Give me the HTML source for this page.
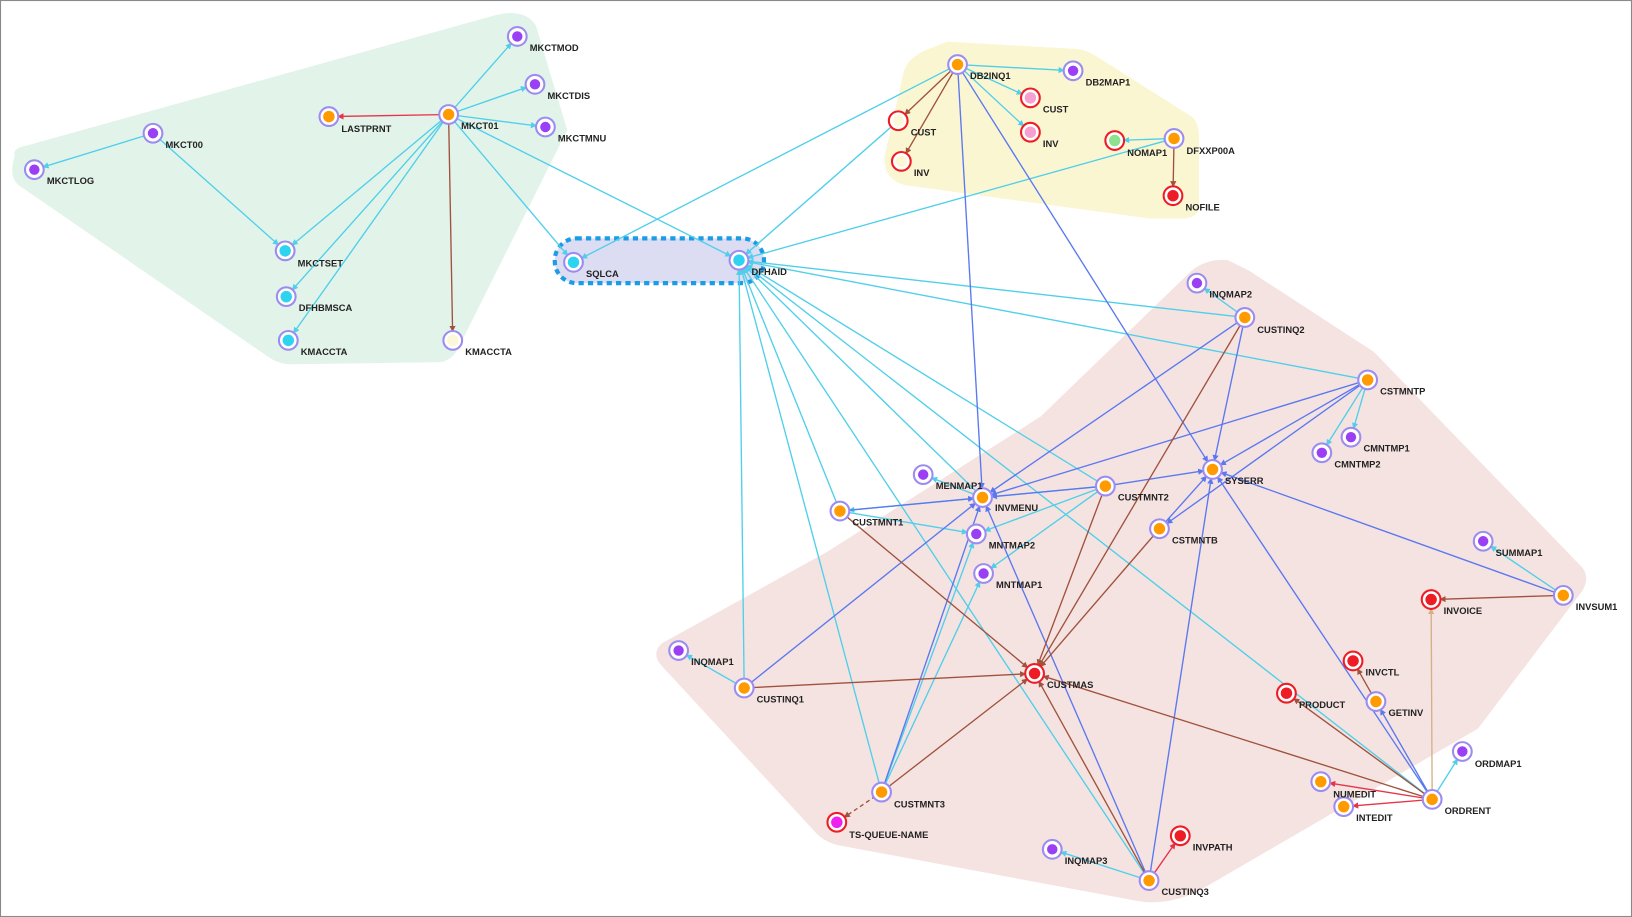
<!DOCTYPE html>
<html><head><meta charset="utf-8"><style>
html,body{margin:0;padding:0;background:#fff;}
svg{display:block;}
text{font-family:"Liberation Sans",Arial,sans-serif;font-weight:bold;font-size:9px;fill:#222;}
</style></head><body>
<svg width="1632" height="917" viewBox="0 0 1568 881" xmlns="http://www.w3.org/2000/svg">
<defs>
<marker id="ac" markerUnits="userSpaceOnUse" markerWidth="8" markerHeight="8" refX="14" refY="3" orient="auto"><path d="M0,0L6,3L0,6z" fill="#4fcfea"/></marker>
<marker id="ab" markerUnits="userSpaceOnUse" markerWidth="8" markerHeight="8" refX="14" refY="3" orient="auto"><path d="M0,0L6,3L0,6z" fill="#5a78f0"/></marker>
<marker id="ar" markerUnits="userSpaceOnUse" markerWidth="8" markerHeight="8" refX="14" refY="3" orient="auto"><path d="M0,0L6,3L0,6z" fill="#e8334a"/></marker>
<marker id="aw" markerUnits="userSpaceOnUse" markerWidth="8" markerHeight="8" refX="14" refY="3" orient="auto"><path d="M0,0L6,3L0,6z" fill="#a0523d"/></marker>
<marker id="at" markerUnits="userSpaceOnUse" markerWidth="8" markerHeight="8" refX="14" refY="3" orient="auto"><path d="M0,0L6,3L0,6z" fill="#d4b088"/></marker>
</defs>
<rect x="0.5" y="0.5" width="1567" height="880" fill="#fff" stroke="#888" stroke-width="1"/>
<!-- groups -->
<path d="M14,150 Q12,142 25,140 L478,14 Q505,8 515,25 L545,125 L440,335 Q433,348 420,348 L280,350 Q268,350 258,343 L18,178 Q8,170 14,150z" fill="#e2f3ea"/>
<path d="M850,150 L868,70 Q872,55 890,48 L910,40 L1035,47 Q1045,48 1055,55 L1145,112 Q1152,118 1152,130 L1152,200 Q1150,210 1135,210 L1105,210 L870,178 Q848,172 850,150z" fill="#fbf6d2"/>
<path d="M636,618 L795,530 L1000,400 L1145,260 Q1160,248 1180,250 L1200,260 L1320,338 L1520,545 Q1528,555 1520,568 L1420,700 L1150,857 Q1120,870 1095,866 L805,812 Q790,808 782,798 L636,640 Q625,628 636,618z" fill="#f5e3e1"/>
<rect x="533" y="229" width="201" height="43" rx="21" fill="#dcdcf3" stroke="#1a9de6" stroke-width="4" stroke-dasharray="5,4"/>
<g fill="none" stroke-width="1.3">
<!-- green group -->
<g stroke="#4fcfea" marker-end="url(#ac)">
<line x1="147" y1="128" x2="33" y2="163"/>
<line x1="147" y1="128" x2="274" y2="241"/>
<line x1="431" y1="110" x2="497" y2="35"/>
<line x1="431" y1="110" x2="514" y2="81"/>
<line x1="431" y1="110" x2="524" y2="122"/>
<line x1="431" y1="110" x2="274" y2="241"/>
<line x1="431" y1="110" x2="275" y2="285"/>
<line x1="431" y1="110" x2="277" y2="327"/>
<line x1="431" y1="110" x2="551" y2="252"/>
<line x1="431" y1="110" x2="710" y2="250"/>
<line x1="920" y1="62" x2="551" y2="252"/>
<line x1="920" y1="62" x2="1031" y2="68"/>
<line x1="920" y1="62" x2="990" y2="94"/>
<line x1="920" y1="62" x2="990" y2="127"/>
<line x1="1128" y1="133" x2="1071" y2="135"/>
<line x1="1128" y1="133" x2="710" y2="250"/>
<line x1="863" y1="116" x2="710" y2="250"/>
<line x1="1196" y1="305" x2="1150" y2="272"/>
<line x1="1196" y1="305" x2="710" y2="250"/>
<line x1="1314" y1="365" x2="710" y2="250"/>
<line x1="1314" y1="365" x2="1298" y2="420"/>
<line x1="1314" y1="365" x2="1270" y2="435"/>
<line x1="1062" y1="467" x2="710" y2="250"/>
<line x1="1062" y1="467" x2="938" y2="513"/>
<line x1="1062" y1="467" x2="945" y2="551"/>
<line x1="1062" y1="467" x2="807" y2="491"/>
<line x1="807" y1="491" x2="710" y2="250"/>
<line x1="807" y1="491" x2="938" y2="513"/>
<line x1="944" y1="478" x2="710" y2="250"/>
<line x1="944" y1="478" x2="887" y2="456"/>
<line x1="715" y1="661" x2="710" y2="250"/>
<line x1="715" y1="661" x2="652" y2="625"/>
<line x1="847" y1="761" x2="710" y2="250"/>
<line x1="847" y1="761" x2="938" y2="513"/>
<line x1="847" y1="761" x2="945" y2="551"/>
<line x1="1104" y1="846" x2="710" y2="250"/>
<line x1="1104" y1="846" x2="1011" y2="816"/>
<line x1="1376" y1="768" x2="710" y2="250"/>
<line x1="1376" y1="768" x2="1405" y2="722"/>
<line x1="1502" y1="572" x2="1425" y2="520"/>
</g>
<g stroke="#5a78f0" marker-end="url(#ab)">
<line x1="920" y1="62" x2="944" y2="478"/>
<line x1="920" y1="62" x2="1165" y2="451"/>
<line x1="1196" y1="305" x2="1165" y2="451"/>
<line x1="1196" y1="305" x2="944" y2="478"/>
<line x1="1314" y1="365" x2="1165" y2="451"/>
<line x1="1314" y1="365" x2="944" y2="478"/>
<line x1="1314" y1="365" x2="1114" y2="508"/>
<line x1="1062" y1="467" x2="1165" y2="451"/>
<line x1="1062" y1="467" x2="944" y2="478"/>
<line x1="807" y1="491" x2="944" y2="478"/>
<line x1="1114" y1="508" x2="1165" y2="451"/>
<line x1="715" y1="661" x2="944" y2="478"/>
<line x1="847" y1="761" x2="944" y2="478"/>
<line x1="1104" y1="846" x2="944" y2="478"/>
<line x1="1104" y1="846" x2="1165" y2="451"/>
<line x1="1376" y1="768" x2="1165" y2="451"/>
<line x1="1376" y1="768" x2="1322" y2="674"/>
<line x1="1502" y1="572" x2="1165" y2="451"/>
</g>
<g stroke="#a0523d" marker-end="url(#aw)">
<line x1="431" y1="110" x2="435" y2="327"/>
<line x1="920" y1="62" x2="863" y2="116"/>
<line x1="920" y1="62" x2="866" y2="155"/>
<line x1="1128" y1="133" x2="1127" y2="188"/>
<line x1="1196" y1="305" x2="994" y2="647"/>
<line x1="1062" y1="467" x2="994" y2="647"/>
<line x1="807" y1="491" x2="994" y2="647"/>
<line x1="1114" y1="508" x2="994" y2="647"/>
<line x1="715" y1="661" x2="994" y2="647"/>
<line x1="847" y1="761" x2="994" y2="647"/>
<line x1="1104" y1="846" x2="994" y2="647"/>
<line x1="1376" y1="768" x2="994" y2="647"/>
<line x1="1376" y1="768" x2="1236" y2="666"/>
<line x1="1322" y1="674" x2="1300" y2="635"/>
<line x1="1502" y1="572" x2="1375" y2="576"/>
<line x1="847" y1="761" x2="804" y2="790" stroke-dasharray="4,3"/>
</g>
<g stroke="#e8334a" marker-end="url(#ar)">
<line x1="431" y1="110" x2="316" y2="112"/>
<line x1="1104" y1="846" x2="1134" y2="803"/>
<line x1="1376" y1="768" x2="1269" y2="751"/>
<line x1="1376" y1="768" x2="1291" y2="775"/>
</g>
<line x1="1376" y1="768" x2="1375" y2="576" stroke="#d4b088" marker-end="url(#at)"/>
</g>
<!-- nodes -->
<g stroke-width="2">
<g stroke="#9d8cf0" fill="#fff">
<circle cx="497" cy="35" r="9"/><circle cx="514" cy="81" r="9"/><circle cx="524" cy="122" r="9"/><circle cx="431" cy="110" r="9"/><circle cx="316" cy="112" r="9"/><circle cx="147" cy="128" r="9"/><circle cx="33" cy="163" r="9"/><circle cx="274" cy="241" r="9"/><circle cx="275" cy="285" r="9"/><circle cx="277" cy="327" r="9"/><circle cx="435" cy="327" r="9"/><circle cx="551" cy="252" r="9"/><circle cx="710" cy="250" r="9"/><circle cx="920" cy="62" r="9"/><circle cx="1031" cy="68" r="9"/><circle cx="1128" cy="133" r="9"/>
<circle cx="1150" cy="272" r="9"/><circle cx="1196" cy="305" r="9"/><circle cx="1314" cy="365" r="9"/><circle cx="1298" cy="420" r="9"/><circle cx="1270" cy="435" r="9"/><circle cx="1165" cy="451" r="9"/><circle cx="887" cy="456" r="9"/><circle cx="944" cy="478" r="9"/><circle cx="1062" cy="467" r="9"/><circle cx="807" cy="491" r="9"/><circle cx="938" cy="513" r="9"/><circle cx="1114" cy="508" r="9"/><circle cx="945" cy="551" r="9"/><circle cx="1425" cy="520" r="9"/><circle cx="1502" cy="572" r="9"/><circle cx="652" cy="625" r="9"/><circle cx="715" cy="661" r="9"/><circle cx="1322" cy="674" r="9"/><circle cx="1405" cy="722" r="9"/><circle cx="1269" cy="751" r="9"/><circle cx="1291" cy="775" r="9"/><circle cx="1376" cy="768" r="9"/><circle cx="847" cy="761" r="9"/><circle cx="1011" cy="816" r="9"/><circle cx="1104" cy="846" r="9"/>
</g>
<g stroke="#ee1c24" fill="#fff">
<circle cx="990" cy="94" r="9"/><circle cx="990" cy="127" r="9"/><circle cx="863" cy="116" r="9"/><circle cx="866" cy="155" r="9"/><circle cx="1071" cy="135" r="9"/><circle cx="1127" cy="188" r="9"/><circle cx="1375" cy="576" r="9"/><circle cx="1300" cy="635" r="9"/><circle cx="994" cy="647" r="9"/><circle cx="1236" cy="666" r="9"/><circle cx="804" cy="790" r="9"/><circle cx="1134" cy="803" r="9"/>
</g>
</g>
<g>
<g fill="#9b3ff5"><circle cx="497" cy="35" r="5"/><circle cx="514" cy="81" r="5"/><circle cx="524" cy="122" r="5"/><circle cx="147" cy="128" r="5"/><circle cx="33" cy="163" r="5"/><circle cx="1031" cy="68" r="5"/><circle cx="1150" cy="272" r="5"/><circle cx="1298" cy="420" r="5"/><circle cx="1270" cy="435" r="5"/><circle cx="887" cy="456" r="5"/><circle cx="938" cy="513" r="5"/><circle cx="945" cy="551" r="5"/><circle cx="1425" cy="520" r="5"/><circle cx="652" cy="625" r="5"/><circle cx="1405" cy="722" r="5"/><circle cx="1011" cy="816" r="5"/></g>
<g fill="#ff9a00"><circle cx="431" cy="110" r="5.5"/><circle cx="316" cy="112" r="5.5"/><circle cx="920" cy="62" r="5.5"/><circle cx="1128" cy="133" r="5.5"/><circle cx="1196" cy="305" r="5.5"/><circle cx="1314" cy="365" r="5.5"/><circle cx="1165" cy="451" r="5.5"/><circle cx="944" cy="478" r="5.5"/><circle cx="1062" cy="467" r="5.5"/><circle cx="807" cy="491" r="5.5"/><circle cx="1114" cy="508" r="5.5"/><circle cx="1502" cy="572" r="5.5"/><circle cx="715" cy="661" r="5.5"/><circle cx="1322" cy="674" r="5.5"/><circle cx="1269" cy="751" r="5.5"/><circle cx="1291" cy="775" r="5.5"/><circle cx="1376" cy="768" r="5.5"/><circle cx="847" cy="761" r="5.5"/><circle cx="1104" cy="846" r="5.5"/></g>
<g fill="#2ed3f0"><circle cx="274" cy="241" r="5.5"/><circle cx="275" cy="285" r="5.5"/><circle cx="277" cy="327" r="5.5"/><circle cx="551" cy="252" r="5.5"/><circle cx="710" cy="250" r="5.5"/></g>
<g fill="#fbf7d8"><circle cx="435" cy="327" r="5.5"/><circle cx="863" cy="116" r="5.5"/><circle cx="866" cy="155" r="5.5"/></g>
<g fill="#f7a0cf"><circle cx="990" cy="94" r="5.5"/><circle cx="990" cy="127" r="5.5"/></g>
<circle cx="1071" cy="135" r="5.5" fill="#8fe08f"/>
<circle cx="804" cy="790" r="5.5" fill="#ee22ee"/>
<g fill="#ee1c24"><circle cx="1127" cy="188" r="5.5"/><circle cx="1375" cy="576" r="5.5"/><circle cx="1300" cy="635" r="5.5"/><circle cx="994" cy="647" r="5.5"/><circle cx="1236" cy="666" r="5.5"/><circle cx="1134" cy="803" r="5.5"/></g>
</g>
<!-- labels -->
<g>
<text x="509" y="49">MKCTMOD</text><text x="526" y="95">MKCTDIS</text><text x="536" y="136">MKCTMNU</text><text x="443" y="124">MKCT01</text><text x="328" y="127">LASTPRNT</text><text x="159" y="142">MKCT00</text><text x="45" y="177">MKCTLOG</text><text x="286" y="256">MKCTSET</text><text x="287" y="299">DFHBMSCA</text><text x="289" y="341">KMACCTA</text><text x="447" y="341">KMACCTA</text>
<text x="563" y="266">SQLCA</text><text x="722" y="264">DFHAID</text>
<text x="932" y="76">DB2INQ1</text><text x="1043" y="82">DB2MAP1</text><text x="1002" y="108">CUST</text><text x="1002" y="141">INV</text><text x="875" y="130">CUST</text><text x="878" y="169">INV</text><text x="1083" y="150">NOMAP1</text><text x="1140" y="148">DFXXP00A</text><text x="1139" y="202">NOFILE</text>
<text x="1162" y="286">INQMAP2</text><text x="1208" y="320">CUSTINQ2</text><text x="1326" y="379">CSTMNTP</text><text x="1310" y="434">CMNTMP1</text><text x="1282" y="449">CMNTMP2</text><text x="1177" y="465">SYSERR</text><text x="899" y="470">MENMAP1</text><text x="956" y="491">INVMENU</text><text x="1074" y="481">CUSTMNT2</text><text x="819" y="505">CUSTMNT1</text><text x="950" y="527">MNTMAP2</text><text x="1126" y="522">CSTMNTB</text><text x="957" y="565">MNTMAP1</text><text x="1437" y="534">SUMMAP1</text><text x="1514" y="586">INVSUM1</text><text x="1387" y="590">INVOICE</text><text x="1312" y="649">INVCTL</text><text x="664" y="639">INQMAP1</text><text x="727" y="675">CUSTINQ1</text><text x="1006" y="661">CUSTMAS</text><text x="1248" y="680">PRODUCT</text><text x="1334" y="688">GETINV</text><text x="1417" y="737">ORDMAP1</text><text x="1281" y="766">NUMEDIT</text><text x="1303" y="789">INTEDIT</text><text x="1388" y="782">ORDRENT</text><text x="859" y="776">CUSTMNT3</text><text x="816" y="805">TS-QUEUE-NAME</text><text x="1146" y="817">INVPATH</text><text x="1023" y="830">INQMAP3</text><text x="1116" y="860">CUSTINQ3</text>
</g>
</svg>
</body></html>
